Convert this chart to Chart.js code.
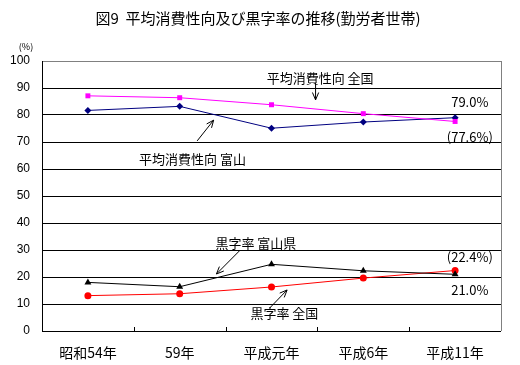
<!DOCTYPE html>
<html>
<head>
<meta charset="utf-8">
<script src="https://cdn.jsdelivr.net/npm/chart.js@4.4.0/dist/chart.umd.min.js"></script>
<style>
  html, body { margin: 0; padding: 0; background: #fff; }
  #wrap { width: 520px; height: 365px; position: relative; }
</style>
</head>
<body>
<div id="wrap"><canvas id="c"></canvas></div>
<script>
// Categories and series values
const years = ['昭和54年', '59年', '平成元年', '平成6年', '平成11年'];
const consumeNational = [87.1, 86.4, 83.8, 80.5, 77.6];
const consumeToyama = [81.7, 83.2, 75.1, 77.4, 79.0];
const surplusToyama = [18.0, 16.4, 24.7, 22.3, 21.0];
const surplusNational = [13.1, 13.8, 16.3, 19.6, 22.4];
const yTicks = [0, 10, 20, 30, 40, 50, 60, 70, 80, 90, 100];

// Callout labels: position in category index / value units
const callouts = [
    { text: '平均消費性向 全国', x: 2.53, y: 93.7, arrow: [2.48, 91.9, 2.48, 85.6] },
    { text: '平均消費性向 富山', x: 1.14, y: 63.7, arrow: [1.19, 70.4, 1.37, 78.1] },
    { text: '黒字率 富山県', x: 1.83, y: 32.6, arrow: [1.66, 30.0, 1.40, 21.1] },
    { text: '黒字率 全国', x: 2.14, y: 6.7, arrow: [1.98, 8.5, 2.17, 15.2] },
    { text: '79.0%', x: 4.16, y: 84.8 },
    { text: '(77.6%)', x: 4.16, y: 71.9 },
    { text: '(22.4%)', x: 4.16, y: 27.4 },
    { text: '21.0%', x: 4.16, y: 15.2 }
];

const jpFont = '"Noto Sans CJK JP", "Noto Sans", sans-serif';

const decor = {
    id: 'decor',
    afterDraw(chart) {
        const ctx = chart.ctx;
        const xs = chart.scales.x, ys = chart.scales.y;
        const a = chart.chartArea;
        ctx.save();
        // title
        ctx.fillStyle = '#000';
        ctx.font = '15px ' + jpFont;
        ctx.textAlign = 'center';
        ctx.textBaseline = 'middle';
        ctx.fillText('図9  平均消費性向及び黒字率の推移(勤労者世帯)', 258, 18);
        // unit
        ctx.font = '9px ' + jpFont;
        ctx.fillText('(%)', 26, 47);
        // right border
        ctx.strokeStyle = '#808080';
        ctx.lineWidth = 1;
        ctx.beginPath();
        ctx.moveTo(Math.round(a.right) + 0.5, a.top);
        ctx.lineTo(Math.round(a.right) + 0.5, a.bottom);
        ctx.stroke();
        // left axis & bottom axis
        ctx.strokeStyle = '#000';
        ctx.beginPath();
        ctx.moveTo(Math.round(a.left) + 0.5, a.top);
        ctx.lineTo(Math.round(a.left) + 0.5, a.bottom + 0.5);
        ctx.lineTo(a.right, a.bottom + 0.5);
        ctx.stroke();
        // inward ticks between categories
        for (let i = 0; i < years.length - 1; i++) {
            const px = Math.round((xs.getPixelForValue(i) + xs.getPixelForValue(i + 1)) / 2) + 0.5;
            ctx.beginPath();
            ctx.moveTo(px, a.bottom);
            ctx.lineTo(px, a.bottom - 4);
            ctx.stroke();
        }
        // callouts
        ctx.font = '13px ' + jpFont;
        callouts.forEach(c => {
            ctx.fillText(c.text, xs.getPixelForValue(c.x), ys.getPixelForValue(c.y));
            if (c.arrow) {
                const x1 = xs.getPixelForValue(c.arrow[0]), y1 = ys.getPixelForValue(c.arrow[1]);
                const x2 = xs.getPixelForValue(c.arrow[2]), y2 = ys.getPixelForValue(c.arrow[3]);
                const ang = Math.atan2(y2 - y1, x2 - x1);
                ctx.beginPath();
                ctx.moveTo(x1, y1);
                ctx.lineTo(x2, y2);
                ctx.moveTo(x2 - 8 * Math.cos(ang - 0.4), y2 - 8 * Math.sin(ang - 0.4));
                ctx.lineTo(x2, y2);
                ctx.lineTo(x2 - 8 * Math.cos(ang + 0.4), y2 - 8 * Math.sin(ang + 0.4));
                ctx.stroke();
            }
        });
        ctx.restore();
    }
};

function series(label, data, color, style, radius) {
    return {
        label: label,
        data: data,
        borderColor: color,
        backgroundColor: color,
        borderWidth: 1,
        pointStyle: style,
        pointRadius: radius,
        pointBorderWidth: 0,
        tension: 0
    };
}

new Chart(document.getElementById('c'), {
    type: 'line',
    data: {
        labels: years,
        datasets: [
            series('平均消費性向 全国', consumeNational, '#ff00ff', 'rect', 3.5),
            series('平均消費性向 富山', consumeToyama, '#000080', 'rectRot', 3.5),
            series('黒字率 富山県', surplusToyama, '#000000', 'triangle', 4),
            series('黒字率 全国', surplusNational, '#ff0000', 'circle', 3.5)
        ]
    },
    options: {
        responsive: true,
        maintainAspectRatio: false,
        animation: false,
        layout: { padding: { left: 0, top: 61, right: 19, bottom: 0 } },
        plugins: {
            legend: { display: false },
            title: { display: false },
            tooltip: { enabled: false }
        },
        scales: {
            x: {
                offset: true,
                grid: { display: false },
                border: { display: false },
                ticks: {
                    color: '#000',
                    font: { family: jpFont, size: 14 },
                    padding: 5,
                    maxRotation: 0
                },
                afterFit(s) { s.height = 34; }
            },
            y: {
                min: 0,
                max: 100,
                afterBuildTicks(s) { s.ticks = yTicks.map(v => ({ value: v })); },
                grid: {
                    color: ctx => (ctx.tick && ctx.tick.value === 100) ? '#808080' : '#000',
                    drawTicks: false,
                    lineWidth: 1
                },
                border: { display: false },
                ticks: {
                    color: '#000',
                    font: { family: 'Liberation Sans, Arial, sans-serif', size: 12 },
                    padding: 12
                },
                afterFit(s) { s.width = 42; }
            }
        }
    },
    plugins: [decor]
});
</script>
</body>
</html>
